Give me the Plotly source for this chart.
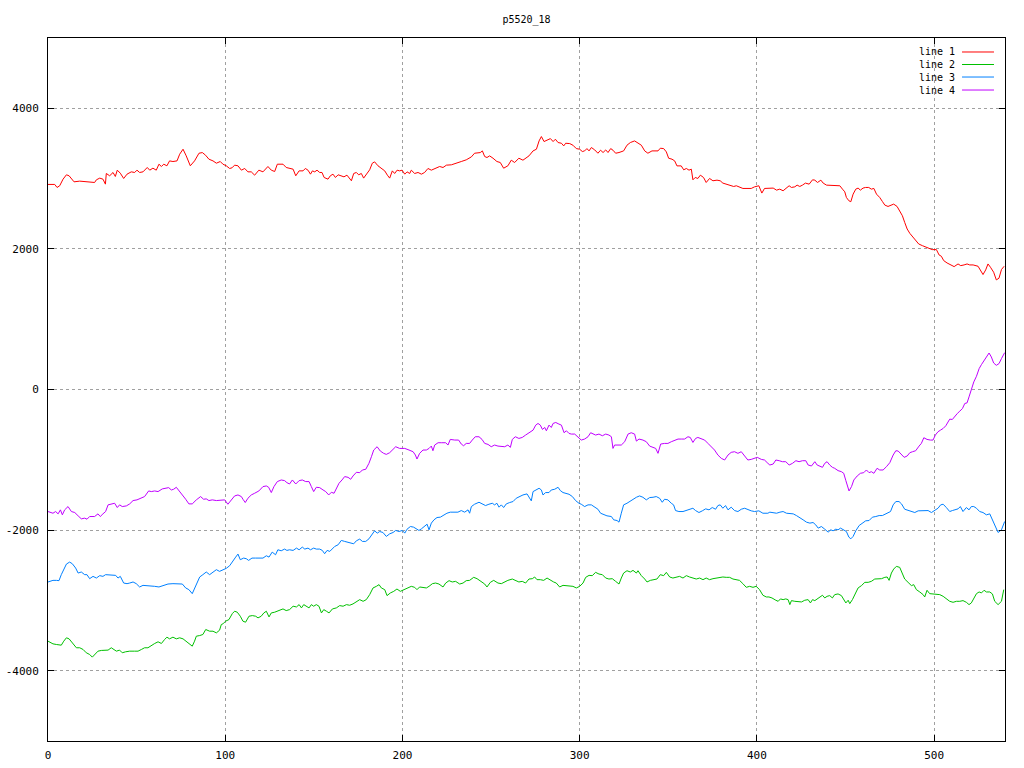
import plotly.graph_objects as go

# ---- data (x = sample index, y = value) ----
line1_x = [0, 3.8, 5.1, 6.6, 8.5, 10.4, 11.9, 13.2, 14.7, 17.9, 21.6, 23.5, 26.3, 27.3, 29.2, 31.0, 32.4, 32.9, 34.8, 36.7, 38.0, 39.1, 40.8, 42.7, 44.6, 47.0, 48.9, 50.2, 51.7, 53.6, 56.0, 57.4, 59.2, 61.1, 62.6, 64.0, 65.3, 67.1, 68.6, 70.5, 72.8, 74.3, 76.2, 78.0, 80.3, 82.7, 85.2, 87.1, 88.9, 90.8, 93.1, 95.0, 97.2, 98.7, 100.6, 102.5, 103.8, 105.3, 107.2, 109.1, 111.0, 112.8, 114.7, 116.6, 119.0, 121.3, 124.1, 126.0, 127.9, 129.4, 132.6, 134.4,
           136.4, 138.3, 139.8, 141.7, 143.9, 145.2, 146.7, 148.1, 149.2, 150.5, 151.8, 153.3, 154.6, 155.8, 158.0, 159.3, 160.8, 162.2, 163.7, 165.5, 167.0, 168.7, 169.9, 171.2, 172.5, 174.0, 175.3, 176.8, 178.1, 179.6, 181.5, 183.0, 184.3, 186.2, 188.1, 190.0, 191.5, 192.8, 194.3, 195.6, 197.0, 198.4, 199.8, 201.3, 202.6, 204.1, 205.0, 206.9, 208.8, 210.7, 212.5, 214.4, 216.3, 219.1, 221.0, 222.9, 224.8, 227.6, 230.4, 233.2, 236.0, 238.9, 240.7, 243.9, 245.1, 246.4, 247.7, 249.2, 251.1, 253.3, 255.2, 257.1, 259.5, 261.4, 263.3, 265.7, 268.0, 271.4,
           273.7, 275.6, 277.1, 278.4, 279.9, 281.6, 283.5, 285.0, 286.3, 287.8, 289.7, 291.0, 292.1, 294.4, 296.2, 298.1, 300.0, 301.5, 302.8, 304.1, 305.3, 306.6, 308.5, 310.3, 311.8, 313.2, 314.7, 316.0, 317.5, 318.8, 320.3, 322.2, 324.8, 326.7, 328.6, 331.0, 332.9, 334.8, 336.7, 338.5, 340.8, 344.2, 345.5, 347.4, 348.9, 350.2, 352.1, 353.6, 354.9, 357.3, 358.7, 360.2, 361.7, 363.0, 363.9, 365.2, 366.7, 368.1, 369.9, 371.4, 373.3, 375.2, 377.5, 379.3, 380.8, 383.1, 385.2, 386.9, 388.4, 390.2, 392.1, 396.8, 398.7, 401.1, 402.8, 404.3,
           407.3, 409.2, 411.1, 412.9, 414.8, 416.3, 418.2, 419.5, 421.4, 422.7, 424.2, 425.7, 427.4, 429.5, 431.4, 432.7, 434.2, 436.1, 437.4, 439.3, 441.1, 443.0, 446.8, 448.3, 449.6, 450.5, 451.9, 453.0, 454.3, 455.8, 457.1, 458.4, 459.9, 461.3, 463.1, 464.6, 466.0, 467.5, 469.3, 470.8, 472.2, 474.0, 475.4, 477.2, 479.1, 480.6, 482.1, 483.4, 484.8, 486.3, 487.8, 489.5, 491.3, 493.4, 495.3, 497.2, 498.9, 501.3, 502.8, 504.1, 505.4, 507.3, 509.8, 511.3, 513.5, 515.0, 516.9, 518.6, 520.1, 522.0, 524.8, 526.1, 527.6, 529.1, 530.4, 531.8, 533.6, 535.1, 536.6, 538.0, 539.5]
line1_y = [2917, 2917, 2874, 2898, 2992, 3054, 3040, 2992, 2954, 2964, 2954, 2945, 2945, 2983, 3007, 2992, 2921, 3073, 3040, 3087, 3030, 3120, 3077, 3002, 3063, 3096, 3087, 3120, 3087, 3096, 3158, 3120, 3148, 3120, 3205, 3172, 3205, 3182, 3252, 3243, 3252, 3347, 3418, 3323, 3182, 3252, 3361, 3370, 3333, 3276, 3252, 3219, 3243, 3205, 3182, 3144, 3153, 3191, 3182, 3120, 3144, 3096, 3096, 3049, 3120, 3096, 3172, 3120, 3101, 3205, 3205, 3158,
           3148, 3134, 3040, 3110, 3110, 3144, 3120, 3063, 3110, 3096, 3120, 3087, 3087, 3016, 2992, 3040, 3063, 3016, 3054, 3040, 3025, 3049, 3007, 2969, 3073, 3087, 3054, 3073, 3007, 3063, 3125, 3219, 3238, 3182, 3144, 3110, 3049, 3007, 3110, 3073, 3120, 3110, 3120, 3063, 3096, 3073, 3120, 3073, 3087, 3063, 3087, 3144, 3120, 3158, 3172, 3158, 3191, 3196, 3215, 3243, 3267, 3309, 3361, 3370, 3394, 3314, 3300, 3323, 3290, 3243, 3229, 3148, 3182, 3262, 3229, 3290, 3262, 3323,
           3394, 3418, 3536, 3598, 3527, 3546, 3569, 3527, 3560, 3513, 3503, 3465, 3503, 3498, 3475, 3427, 3418, 3385, 3394, 3427, 3394, 3442, 3408, 3361, 3404, 3371, 3408, 3371, 3427, 3404, 3361, 3371, 3394, 3475, 3513, 3536, 3503, 3475, 3394, 3361, 3394, 3394, 3432, 3427, 3380, 3290, 3276, 3252, 3181, 3181, 3125, 3144, 3120, 3134, 2983, 3016, 3002, 3049, 3016, 2945, 3002, 2969, 2978, 2969, 2936, 2921, 2898, 2888, 2898, 2874, 2860, 2860, 2883, 2898, 2794, 2860,
           2865, 2865, 2836, 2850, 2827, 2865, 2898, 2874, 2883, 2907, 2888, 2907, 2936, 2921, 2983, 2978, 2945, 2978, 2936, 2907, 2907, 2898, 2898, 2850, 2812, 2732, 2685, 2671, 2779, 2850, 2865, 2836, 2865, 2874, 2874, 2850, 2860, 2779, 2732, 2675, 2623, 2604, 2614, 2637, 2604, 2543, 2472, 2377, 2283, 2221, 2174, 2117, 2070, 2046, 2023, 2008, 1990, 1990, 1914, 1895, 1834, 1800, 1762, 1748, 1786, 1762, 1772, 1786, 1772, 1772, 1753, 1706, 1635, 1701, 1786, 1739, 1668, 1559, 1583, 1706, 1753]

line2_x = [0, 2.8, 4.7, 7.5, 8.9, 10.4, 11.9, 13.2, 14.5, 16.0, 17.9, 19.8, 21.6, 23.5, 25.0, 26.3, 28.2, 30.1, 32.0, 33.9, 35.7, 37.1, 38.6, 40.4, 41.9, 43.8, 46.1, 48.9, 50.8, 52.7, 54.5, 56.4, 58.3, 60.2, 62.1, 64.0, 65.8, 67.1, 68.6, 70.5, 72.4, 74.3, 76.2, 78.0, 79.9, 81.4, 82.7, 83.7, 85.6, 87.4, 89.0, 91.2, 93.1, 95.0, 96.8, 97.8, 98.7, 100.2, 102.1, 104.0, 105.3, 106.8, 108.5, 110.0, 111.5, 113.4, 115.3, 117.2, 118.5, 120.3, 121.8, 123.2, 124.7, 126.0, 127.9, 130.3, 132.6, 134.4, 136.3,
           138.3, 140.2, 141.7, 143.0, 144.3, 145.8, 147.3, 148.6, 149.9, 151.4, 152.9, 154.3, 155.6, 157.1, 158.6, 160.5, 162.7, 164.6, 166.5, 168.4, 170.2, 172.1, 174.0, 175.9, 177.8, 179.6, 181.5, 183.4, 185.3, 186.8, 188.1, 190.0, 191.3, 193.2, 195.1, 196.9, 198.8, 201.3, 203.1, 205.0, 206.9, 208.2, 209.7, 211.6, 213.5, 215.0, 216.9, 218.7, 220.6, 222.9, 224.4, 226.3, 228.1, 230.0, 232.3, 234.2, 236.0, 237.9, 240.2, 242.1, 244.5, 246.4, 247.7, 249.6, 251.5, 253.9, 255.8, 257.7, 259.5, 262.0, 263.9, 265.7, 267.6, 269.5, 271.4,
           273.3, 274.6, 275.9, 277.8, 279.7, 281.6, 283.5, 285.3, 286.8, 288.7, 290.6, 292.5, 294.4, 296.2, 298.1, 300.0, 301.9, 303.4, 305.3, 307.1, 309.0, 310.9, 312.8, 314.7, 316.5, 318.4, 320.3, 322.2, 323.5, 324.8, 326.7, 328.6, 330.1, 332.0, 332.9, 334.8, 336.7, 338.0, 339.9, 341.7, 343.6, 345.5, 347.4, 348.9, 350.8, 352.6, 354.5, 356.4, 358.3, 360.2, 362.0, 363.9, 365.8, 367.7, 369.6, 371.4, 373.3, 375.2, 377.1, 379.0, 380.8, 382.7, 384.6, 386.5, 388.4, 390.2, 392.1, 394.0, 395.9, 397.8, 399.6, 401.5, 403.4, 405.3, 406.8,
           408.5, 410.7, 412.0, 413.3, 414.8, 416.3, 417.6, 418.6, 419.5, 421.4, 423.3, 425.2, 427.0, 428.9, 430.2, 431.4, 432.7, 434.0, 435.5, 437.0, 438.3, 439.6, 441.1, 442.6, 443.9, 445.8, 447.7, 449.0, 450.2, 451.5, 452.4, 453.9, 455.8, 457.1, 459.0, 460.9, 462.8, 464.6, 466.5, 468.4, 470.3, 472.2, 473.5, 474.6, 475.9, 477.2, 478.7, 480.6, 482.1, 483.4, 485.3, 487.2, 488.5, 490.0, 491.9, 493.8, 494.7, 496.0, 497.5, 499.4, 501.3, 503.2, 505.1, 506.9, 508.8, 510.7, 512.6, 514.5, 516.3, 518.2, 519.7, 521.0, 522.4, 523.9, 525.4, 526.7, 528.2, 529.5, 531.4, 532.9, 534.2, 536.1, 538.0, 539.3]
line2_y = [-3580, -3618, -3627, -3637, -3580, -3532, -3547, -3589, -3618, -3674, -3674, -3698, -3745, -3769, -3807, -3769, -3722, -3712, -3712, -3707, -3674, -3698, -3722, -3707, -3745, -3731, -3722, -3722, -3722, -3698, -3674, -3674, -3641, -3613, -3589, -3613, -3556, -3523, -3547, -3523, -3547, -3532, -3547, -3580, -3627, -3651, -3580, -3509, -3500, -3485, -3414, -3438, -3438, -3462, -3424, -3343, -3334, -3296, -3273, -3188, -3154, -3168, -3225, -3296, -3310, -3225, -3216, -3225, -3249, -3225, -3178, -3154, -3235, -3178, -3168, -3140, -3121, -3145, -3131,
           -3083, -3093, -3060, -3107, -3060, -3083, -3107, -3060, -3083, -3060, -3083, -3178, -3131, -3154, -3178, -3121, -3107, -3074, -3083, -3060, -3069, -3050, -3013, -2989, -3013, -2989, -2918, -2823, -2800, -2776, -2823, -2847, -2932, -2894, -2871, -2838, -2871, -2838, -2823, -2800, -2814, -2847, -2809, -2814, -2823, -2800, -2762, -2753, -2767, -2809, -2753, -2719, -2738, -2729, -2767, -2753, -2719, -2715, -2672, -2691, -2729, -2767, -2809, -2743, -2715, -2753, -2762, -2738, -2715, -2696, -2715, -2738, -2729, -2753, -2696,
           -2691, -2667, -2705, -2705, -2715, -2682, -2715, -2738, -2753, -2809, -2786, -2790, -2786, -2800, -2823, -2800, -2753, -2672, -2644, -2648, -2601, -2625, -2634, -2682, -2696, -2691, -2729, -2767, -2682, -2611, -2578, -2596, -2573, -2611, -2578, -2648, -2696, -2738, -2715, -2705, -2696, -2634, -2648, -2601, -2667, -2682, -2667, -2658, -2682, -2648, -2667, -2682, -2696, -2682, -2705, -2682, -2705, -2691, -2682, -2672, -2667, -2672, -2672, -2696, -2705, -2715, -2762, -2814, -2800, -2814, -2800, -2847, -2927, -2951, -2951,
           -2965, -2998, -3013, -2979, -2989, -2979, -2989, -3060, -3003, -3013, -3013, -3022, -2998, -2989, -3036, -2989, -3003, -2979, -2942, -2927, -2965, -2942, -2932, -2965, -2918, -2908, -2932, -2998, -3036, -2998, -3046, -2989, -2894, -2823, -2790, -2743, -2743, -2729, -2696, -2691, -2691, -2672, -2667, -2715, -2611, -2554, -2516, -2530, -2611, -2696, -2743, -2790, -2776, -2847, -2880, -2918, -2951, -2856, -2904, -2908, -2918, -2918, -2942, -2975, -3013, -3027, -3013, -3013, -3003, -3027, -3060, -3036, -2965, -2904, -2880, -2894, -2856, -2880, -2880, -2908, -3013, -3060, -3013, -2847]

line3_x = [0, 2.8, 4.7, 6.2, 7.5, 8.9, 10.4, 12.2, 13.7, 15.6, 17.0, 18.8, 20.7, 22.0, 23.5, 25.4, 27.3, 29.2, 31.0, 32.5, 34.8, 36.7, 38.2, 39.5, 40.8, 42.7, 44.6, 46.1, 48.0, 49.8, 51.7, 53.6, 55.5, 57.4, 60.2, 62.6, 64.9, 67.7, 70.5, 73.3, 75.8, 77.7, 79.5, 81.4, 83.3, 85.6, 87.4, 89.3, 91.2, 93.1, 95.0, 96.8, 98.7, 100.6, 102.5, 104.4, 105.9, 107.2, 108.5, 110.4, 111.9, 113.2, 115.1, 117.0, 119.4, 121.3, 123.2, 124.7, 126.5, 128.4, 129.7, 131.6, 133.5, 134.8, 136.3,
           138.3, 140.2, 141.7, 143.5, 144.9, 146.7, 148.1, 149.9, 151.4, 153.3, 154.8, 156.1, 157.5, 159.0, 160.5, 161.8, 163.7, 165.5, 167.4, 169.3, 171.2, 172.5, 174.0, 175.9, 177.4, 179.3, 181.1, 183.0, 184.3, 185.8, 187.2, 189.0, 190.9, 192.8, 194.7, 196.2, 198.1, 199.9, 201.3, 202.6, 204.5, 206.3, 207.8, 209.3, 210.7, 212.5, 213.9, 215.0, 216.3, 217.8, 219.5, 221.4, 223.3, 225.1, 227.0, 229.5, 231.3, 233.2, 235.1, 237.0, 237.9, 238.9, 240.7, 243.2, 245.1, 246.9, 248.8, 250.7, 252.0, 253.3, 254.5, 255.8, 257.1, 258.6, 260.5, 262.4, 264.2, 266.1, 268.0, 270.3,
           272.7, 273.7, 275.2, 277.1, 278.4, 279.3, 280.8, 282.7, 284.0, 285.9, 287.8, 289.1, 290.6, 292.1, 294.0, 295.9, 297.7, 299.6, 300.9, 302.8, 304.7, 306.6, 308.5, 310.3, 311.8, 313.5, 315.4, 317.9, 319.2, 321.1, 322.2, 323.5, 324.8, 326.7, 328.6, 330.5, 332.0, 333.8, 335.7, 337.6, 339.5, 341.4, 343.2, 345.1, 346.6, 347.9, 349.8, 351.7, 353.0, 354.1, 356.0, 358.3, 360.2, 362.0, 363.9, 365.4, 367.3, 369.2, 371.1, 373.0, 374.8, 376.7, 378.0, 379.3, 380.8, 382.3, 383.7, 385.5, 387.4, 389.3, 391.2, 393.1, 394.9, 396.8, 398.7, 401.1, 403.4, 406.2,
           407.3, 409.2, 411.1, 413.0, 414.8, 416.7, 418.6, 420.5, 422.3, 424.2, 426.1, 428.0, 429.9, 431.7, 433.2, 434.6, 436.4, 438.3, 440.2, 441.7, 443.0, 444.5, 445.8, 447.2, 449.0, 450.5, 451.9, 453.0, 454.3, 455.8, 457.7, 459.6, 461.4, 463.3, 465.2, 467.1, 469.0, 470.8, 472.7, 474.0, 475.4, 476.9, 478.4, 480.2, 481.6, 483.4, 485.3, 487.2, 489.1, 491.0, 492.8, 494.7, 496.6, 498.5, 500.4, 502.2, 503.7, 505.1, 506.9, 508.8, 510.3, 512.2, 513.5, 514.8, 516.3, 518.2, 519.7, 521.0, 522.4, 523.9, 525.7, 527.6, 529.5, 531.4, 532.9, 534.2, 536.1, 538.0, 539.8]
line3_y = [-2738, -2715, -2715, -2719, -2634, -2563, -2483, -2455, -2478, -2540, -2611, -2596, -2634, -2634, -2691, -2658, -2682, -2648, -2658, -2634, -2634, -2644, -2644, -2682, -2658, -2753, -2762, -2753, -2738, -2762, -2809, -2786, -2790, -2786, -2800, -2809, -2786, -2767, -2762, -2767, -2767, -2823, -2847, -2904, -2800, -2667, -2634, -2596, -2634, -2596, -2563, -2587, -2563, -2544, -2507, -2431, -2384, -2341, -2421, -2398, -2407, -2431, -2398, -2398, -2398, -2398, -2365, -2384, -2313, -2351, -2280, -2294, -2270, -2289, -2280,
           -2289, -2256, -2280, -2242, -2270, -2256, -2280, -2256, -2270, -2270, -2289, -2336, -2289, -2303, -2270, -2232, -2209, -2147, -2161, -2171, -2185, -2195, -2152, -2128, -2161, -2161, -2124, -2053, -2010, -2043, -2020, -2034, -2090, -2053, -2034, -2005, -2020, -2005, -2043, -1987, -1949, -1958, -1982, -2005, -1982, -1949, -1916, -1996, -1901, -1854, -1821, -1816, -1783, -1760, -1745, -1745, -1745, -1722, -1745, -1712, -1760, -1665, -1632, -1604, -1627, -1651, -1632, -1618, -1641, -1618, -1674, -1641, -1679, -1627, -1608, -1594, -1547, -1523, -1500, -1485,
           -1584, -1452, -1429, -1405, -1429, -1500, -1466, -1466, -1429, -1419, -1391, -1438, -1466, -1476, -1490, -1523, -1580, -1618, -1632, -1665, -1641, -1641, -1674, -1703, -1760, -1783, -1797, -1807, -1854, -1864, -1887, -1760, -1641, -1618, -1584, -1561, -1533, -1514, -1533, -1570, -1537, -1533, -1523, -1547, -1604, -1561, -1570, -1618, -1641, -1722, -1736, -1736, -1722, -1712, -1689, -1722, -1750, -1726, -1698, -1712, -1679, -1703, -1651, -1641, -1689, -1651, -1712, -1674, -1722, -1736, -1703, -1689, -1712, -1726, -1736, -1726, -1760, -1760,
           -1745, -1750, -1760, -1745, -1736, -1760, -1769, -1769, -1793, -1830, -1854, -1887, -1901, -1892, -1925, -1972, -1949, -1987, -2029, -1996, -2010, -1987, -1996, -1972, -1996, -2020, -2100, -2124, -2090, -2010, -1935, -1901, -1868, -1864, -1816, -1807, -1793, -1793, -1769, -1745, -1736, -1641, -1594, -1594, -1627, -1703, -1722, -1736, -1750, -1726, -1722, -1722, -1722, -1750, -1722, -1689, -1641, -1632, -1679, -1736, -1722, -1712, -1698, -1665, -1736, -1679, -1712, -1665, -1665, -1689, -1736, -1750, -1783, -1769, -1854, -1949, -2034, -1996, -1878]

line4_x = [0, 2.8, 4.3, 5.7, 7.0, 8.1, 9.4, 11.3, 13.2, 15.1, 17.0, 18.8, 20.7, 22.0, 23.5, 26.3, 28.2, 29.5, 31.0, 32.5, 33.9, 35.7, 37.6, 39.1, 40.4, 41.9, 44.2, 46.1, 48.0, 50.2, 52.1, 54.5, 56.8, 58.3, 60.2, 62.1, 64.5, 66.8, 68.1, 69.6, 70.9, 72.4, 73.9, 75.8, 77.7, 79.5, 81.4, 83.7, 86.1, 87.8, 89.3, 90.8, 92.7, 95.0, 97.8, 99.7, 101.5, 103.4, 105.3, 107.2, 109.1, 110.0, 111.3, 112.8, 114.7, 116.6, 119.0, 121.3, 123.2, 124.5, 126.0, 127.5, 129.4, 131.6, 133.5, 134.8, 136.3,
           137.9, 139.8, 141.7, 143.5, 145.4, 147.3, 148.6, 149.9, 151.4, 153.3, 155.2, 156.7, 158.4, 159.9, 161.4, 162.7, 164.2, 165.9, 167.4, 169.3, 170.8, 172.1, 174.0, 175.9, 177.4, 179.3, 181.1, 182.5, 183.8, 185.7, 187.5, 189.4, 190.9, 192.8, 194.7, 196.2, 198.4, 201.3, 203.7, 206.0, 207.3, 208.2, 209.7, 211.6, 213.5, 215.0, 216.3, 217.2, 218.2, 220.1, 221.9, 224.4, 225.7, 227.0, 229.5, 231.7, 233.2, 234.5, 236.0, 237.9, 239.4, 241.1, 243.2, 244.9, 246.4, 248.3, 250.1, 252.0, 253.9, 255.8, 257.7, 259.5, 260.9, 262.0, 263.7, 265.7, 267.6, 269.5, 271.4,
           273.7, 275.2, 276.5, 277.8, 279.0, 280.3, 281.2, 282.7, 284.0, 285.0, 286.5, 288.3, 289.7, 291.2, 292.5, 294.0, 295.3, 297.2, 299.1, 300.9, 302.8, 304.7, 306.2, 307.5, 309.0, 310.9, 312.8, 314.7, 316.5, 317.9, 318.8, 319.7, 321.6, 323.5, 325.4, 327.3, 329.1, 331.0, 332.0, 333.5, 335.7, 337.6, 339.5, 341.4, 342.9, 344.2, 345.7, 347.9, 349.8, 351.7, 353.6, 355.5, 357.3, 359.2, 361.1, 362.4, 363.9, 365.4, 366.7, 368.6, 370.5, 372.4, 374.3, 376.1, 378.0, 379.9, 381.8, 383.7, 385.5, 387.4, 389.3, 391.2, 393.1, 394.9, 396.8, 398.7, 400.2, 402.5, 404.3, 406.2,
           407.3, 409.2, 410.7, 412.6, 414.4, 416.3, 418.2, 420.1, 422.0, 423.8, 425.7, 427.6, 428.9, 430.8, 432.7, 434.0, 435.5, 437.0, 438.3, 439.6, 441.1, 442.6, 443.9, 445.8, 447.7, 449.0, 450.2, 451.1, 452.0, 453.4, 454.7, 456.6, 458.4, 460.3, 461.8, 463.3, 464.6, 466.0, 467.8, 469.3, 471.2, 473.1, 475.0, 476.9, 478.4, 479.7, 481.6, 483.1, 484.8, 486.3, 487.8, 489.6, 491.5, 492.8, 494.2, 496.0, 497.9, 499.4, 500.7, 502.2, 503.6, 505.1, 506.6, 507.9, 508.8, 510.3, 511.6, 513.1, 514.5, 516.0, 517.3, 518.6, 519.7, 521.0, 522.4, 523.9, 525.4, 526.7, 528.2, 529.5, 531.0, 532.3, 533.6, 535.1, 536.6, 538.0, 539.8]
line4_y = [-1736, -1760, -1736, -1769, -1712, -1783, -1712, -1665, -1736, -1750, -1797, -1840, -1830, -1845, -1807, -1807, -1769, -1807, -1769, -1736, -1641, -1627, -1618, -1679, -1641, -1665, -1656, -1627, -1580, -1570, -1547, -1523, -1443, -1452, -1443, -1452, -1414, -1405, -1396, -1429, -1419, -1391, -1438, -1485, -1561, -1627, -1627, -1570, -1523, -1561, -1556, -1580, -1570, -1580, -1570, -1570, -1632, -1570, -1514, -1500, -1523, -1561, -1608, -1547, -1500, -1476, -1443, -1381, -1372, -1391, -1466, -1381, -1310, -1287, -1296, -1325, -1344,
           -1287, -1344, -1296, -1287, -1310, -1310, -1381, -1452, -1391, -1396, -1429, -1452, -1500, -1462, -1476, -1419, -1334, -1287, -1239, -1249, -1277, -1230, -1178, -1183, -1145, -1135, -1050, -956, -861, -814, -875, -908, -923, -899, -847, -814, -838, -838, -861, -885, -932, -989, -908, -861, -861, -838, -805, -871, -790, -757, -757, -757, -790, -710, -719, -719, -776, -800, -767, -767, -719, -672, -672, -710, -767, -781, -814, -790, -805, -805, -814, -790, -823, -710, -672, -696, -682, -648, -615,
           -578, -507, -483, -507, -568, -540, -587, -507, -540, -483, -469, -492, -507, -615, -587, -625, -634, -634, -682, -719, -705, -672, -615, -634, -648, -634, -658, -634, -648, -672, -838, -790, -790, -790, -743, -634, -615, -634, -734, -705, -719, -743, -805, -823, -838, -908, -776, -767, -767, -743, -719, -705, -705, -705, -672, -682, -753, -696, -682, -705, -719, -767, -814, -861, -932, -979, -1003, -932, -894, -885, -908, -885, -946, -1003, -994, -979, -965, -994, -1003, -1050,
           -1074, -1060, -1003, -1013, -1027, -1027, -1074, -1050, -1013, -1027, -1013, -1013, -1074, -1088, -1027, -1074, -1088, -1107, -1050, -1027, -1074, -1107, -1121, -1154, -1169, -1192, -1296, -1381, -1443, -1381, -1287, -1230, -1192, -1183, -1145, -1183, -1169, -1192, -1121, -1145, -1145, -1098, -1041, -932, -871, -875, -932, -965, -946, -899, -885, -871, -805, -767, -686, -710, -719, -719, -648, -601, -578, -554, -516, -459, -422, -426, -379, -341, -308, -270, -199, -190, -105, -1, 108, 188, 297, 354, 406, 463, 519, 463, 377, 344, 368, 439, 524]

series_names = ["line 1", "line 2", "line 3", "line 4"]
series_colors = ["#ff0000", "#00c000", "#0080ff", "#c000ff"]
x_ticks = [0, 100, 200, 300, 400, 500]
y_ticks = [-4000, -2000, 0, 2000, 4000]
title_text = "p5520_18"

xs = [line1_x, line2_x, line3_x, line4_x]
ys = [line1_y, line2_y, line3_y, line4_y]

FONT = "DejaVu Sans Mono"
fig = go.Figure()
for name, color, x, y in zip(series_names, series_colors, xs, ys):
    fig.add_trace(go.Scatter(x=x, y=y, mode="lines", name=name,
                             line=dict(color=color, width=1), showlegend=False))

# gnuplot-style key (text right-aligned, sample line to the right)
row_y = [0.9801, 0.9623, 0.9445, 0.9260]
for name, color, yy in zip(series_names, series_colors, row_y):
    fig.add_annotation(x=0.9500, y=yy, xref="paper", yref="paper", text=name,
                       showarrow=False, xanchor="right", yanchor="middle",
                       font=dict(family=FONT, size=10, color="black"))
    fig.add_shape(type="line", xref="paper", yref="paper",
                  x0=0.9551, x1=0.9885, y0=yy, y1=yy,
                  line=dict(color=color, width=1))

axis_common = dict(showline=True, linecolor="black", linewidth=1, mirror="ticks",
                   ticks="inside", ticklen=6, tickcolor="black", tickwidth=1,
                   showgrid=True, gridcolor="#a0a0a0", gridwidth=1, griddash="3px,3px",
                   zeroline=False, automargin=False,
                   tickfont=dict(family=FONT, size=11, color="black"))

fig.update_layout(
    width=1024, height=768,
    margin=dict(l=48, r=19, t=38, b=27),
    paper_bgcolor="white", plot_bgcolor="white",
    title=dict(text=title_text, x=0.5, xref="paper", y=0.975, yref="container",
               xanchor="center", yanchor="middle",
               font=dict(family=FONT, size=10, color="black")),
    xaxis=dict(range=[0, 540], tickvals=x_ticks, ticktext=[str(v) for v in x_ticks],
               ticklabelstandoff=4, **axis_common),
    yaxis=dict(range=[-5000, 5000], tickvals=y_ticks, ticktext=[str(v) for v in y_ticks],
               ticklabelstandoff=6, **axis_common),
)

fig.write_html("out.html", config={"displayModeBar": False},
               post_script="document.body.style.margin='0px';document.body.style.padding='0px';")
